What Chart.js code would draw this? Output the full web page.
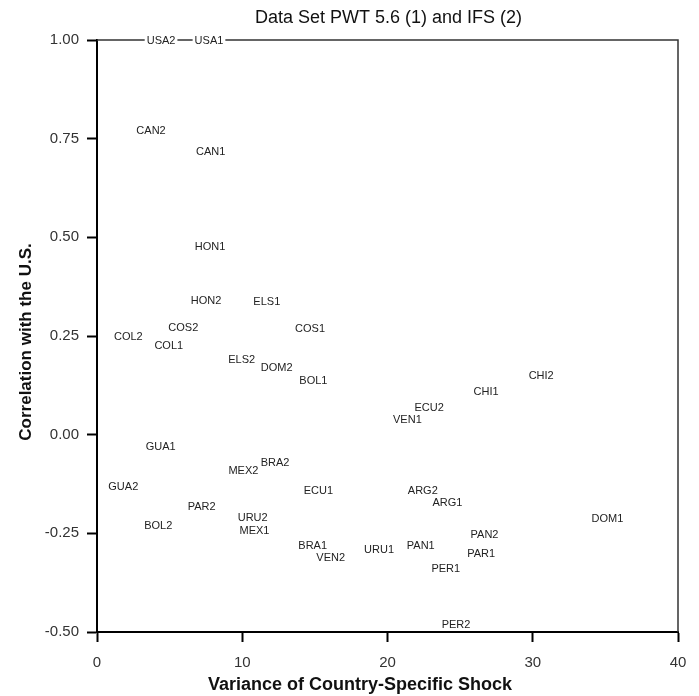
<!DOCTYPE html>
<html><head><meta charset="utf-8">
<script src="https://cdn.jsdelivr.net/npm/chart.js@4.4.0/dist/chart.umd.min.js"></script>
<style>html,body{margin:0;padding:0;background:#fff;}</style>
</head><body>
<canvas id="c" width="699" height="696"></canvas>
<script>
// Country/data-set labels
const pointLabels = ["USA2","USA1","CAN2","CAN1","HON1","HON2","ELS1","COS2","COL2","COL1","COS1","ELS2","DOM2","BOL1","CHI2","CHI1","ECU2","VEN1","GUA1","MEX2","BRA2","GUA2","ECU1","ARG2","ARG1","PAR2","URU2","DOM1","BOL2","MEX1","PAN2","BRA1","PAN1","URU1","VEN2","PAR1","PER1","PER2"];
// Variance of country-specific shock
const variance = [4.41,7.71,3.72,7.83,7.78,7.51,11.69,5.94,2.16,4.94,14.67,9.96,12.37,14.90,30.58,26.79,22.87,21.37,4.39,10.08,12.26,1.81,15.24,22.43,24.13,7.21,10.72,35.14,4.22,10.84,26.68,14.85,22.29,19.42,16.09,26.45,24.01,24.72];
// Correlation with the U.S.
const correlation = [1.00,1.00,0.770,0.717,0.477,0.340,0.338,0.271,0.249,0.226,0.268,0.190,0.169,0.138,0.149,0.110,0.069,0.039,-0.031,-0.090,-0.071,-0.130,-0.142,-0.142,-0.171,-0.181,-0.211,-0.212,-0.230,-0.242,-0.252,-0.281,-0.280,-0.292,-0.311,-0.301,-0.340,-0.482];
const xTickValues = [0,10,20,30,40];
const yTickValues = [-0.50,-0.25,0.00,0.25,0.50,0.75,1.00];

const titleText = "Data Set PWT 5.6 (1) and IFS (2)";
const xTitle = "Variance of Country-Specific Shock";
const yTitle = "Correlation with the U.S.";

const points = variance.map((v,i)=>({x:v, y:correlation[i]}));

const framePlugin = {
  id:'frame',
  beforeDatasetsDraw(chart){
    const {ctx, chartArea:a} = chart;
    ctx.save();
    ctx.strokeStyle = '#333';
    ctx.lineWidth = 1.5;
    ctx.beginPath();
    ctx.moveTo(a.left, a.top);
    ctx.lineTo(a.right, a.top);
    ctx.lineTo(a.right, a.bottom);
    ctx.stroke();
    ctx.restore();
  },
  afterDatasetsDraw(chart){
    const {ctx} = chart;
    const meta = chart.getDatasetMeta(0);
    ctx.save();
    ctx.font = '11px "Liberation Sans", Arial, sans-serif';
    ctx.textAlign = 'center';
    ctx.textBaseline = 'middle';
    meta.data.forEach((el,i)=>{
      const t = pointLabels[i];
      const w = ctx.measureText(t).width;
      ctx.fillStyle = '#fff';
      ctx.fillRect(el.x - w/2 - 2, el.y - 6, w + 4, 12);
      ctx.fillStyle = '#222';
      ctx.fillText(t, el.x, el.y + 0.5);
    });
    ctx.restore();
  },
  afterDraw(chart){
    const {ctx, chartArea:a} = chart;
    const cx = (a.left + a.right)/2;
    ctx.save();
    ctx.fillStyle = '#111';
    ctx.textAlign = 'center';
    ctx.textBaseline = 'middle';
    ctx.font = '18px "Liberation Sans", Arial, sans-serif';
    ctx.fillText(titleText, cx + 1, 18);
    ctx.font = 'bold 18px "Liberation Sans", Arial, sans-serif';
    ctx.fillText(xTitle, 360, 685);
    ctx.font = 'bold 17px "Liberation Sans", Arial, sans-serif';
    ctx.translate(26, 342);
    ctx.rotate(-Math.PI/2);
    ctx.fillText(yTitle, 0, 0);
    ctx.restore();
  }
};

new Chart(document.getElementById('c'), {
  type:'scatter',
  data:{datasets:[{data:points, pointRadius:0, pointHoverRadius:0, showLine:false}]},
  options:{
    responsive:false,
    animation:false,
    devicePixelRatio:1,
    layout:{padding:{top:40,right:21,left:0,bottom:0}},
    plugins:{legend:{display:false}, tooltip:{enabled:false}, title:{display:false}},
    scales:{
      x:{
        type:'linear', min:0, max:40,
        afterBuildTicks(s){ s.ticks = xTickValues.map(v=>({value:v})); },
        afterFit(s){ s.height = 64; },
        ticks:{font:{size:15, family:'"Liberation Sans", Arial, sans-serif'}, color:'#333', padding:12, maxRotation:0},
        grid:{drawOnChartArea:false, tickLength:10, tickWidth:2, tickColor:'#000'},
        border:{display:true, width:2, color:'#000'}
      },
      y:{
        type:'linear', min:-0.5, max:1,
        afterBuildTicks(s){ s.ticks = yTickValues.map(v=>({value:v})); },
        afterFit(s){ s.width = 97; },
        ticks:{font:{size:15, family:'"Liberation Sans", Arial, sans-serif'}, color:'#333', padding:8, callback:v=>Number(v).toFixed(2)},
        grid:{drawOnChartArea:false, tickLength:10, tickWidth:2, tickColor:'#000'},
        border:{display:true, width:2, color:'#000'}
      }
    }
  },
  plugins:[framePlugin]
});
</script>
</body></html>
